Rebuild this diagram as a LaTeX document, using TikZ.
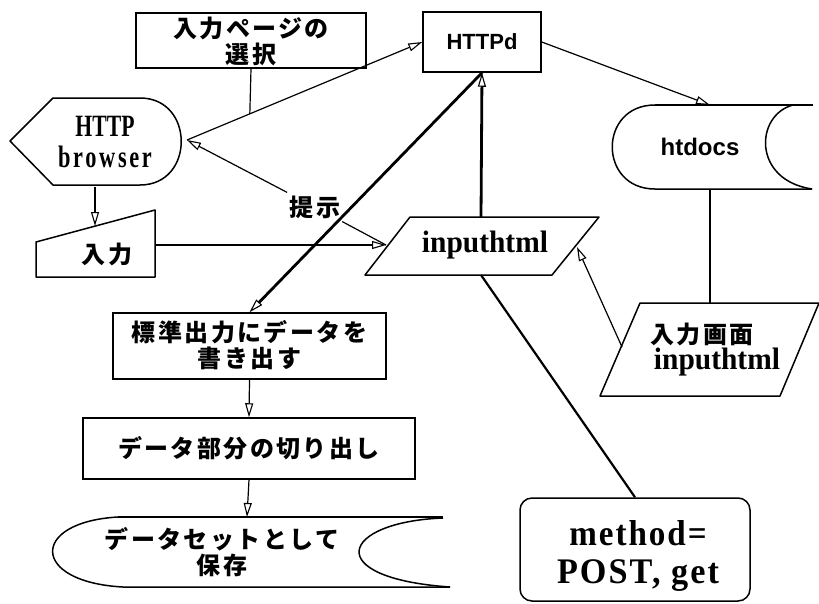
\documentclass[tikz,border=0pt]{standalone}
\usepackage{fontspec}
\usepackage{graphicx}
\setmainfont{Liberation Serif}
\newfontfamily\jp[LetterSpace=10]{Noto Sans CJK JP}
\newfontfamily\lsans{Liberation Sans}
\newfontfamily\serls[LetterSpace=12]{Liberation Serif}
\newfontfamily\sermeth[LetterSpace=6]{Liberation Serif}
\usetikzlibrary{arrows.meta,calc}
\newcommand\hsq[2]{\scalebox{#1}[1]{#2}}
\begin{document}
\begin{tikzpicture}[x=1pt,y=-1pt,
  shp/.style={draw, line width=1.5pt, line join=round},
  box/.style={draw, line width=1.5pt, inner sep=0pt},
  ln/.style={line width=1.2pt},
  heavy/.style={line width=2.8pt},
  arr/.style={-{Triangle[open,length=14pt,width=8pt,line width=1.1pt]}},
  jpt/.style={font=\jp\bfseries\fontsize{24}{26}\selectfont, align=center, inner sep=1pt},
  sert/.style={font=\bfseries, align=center, inner sep=1pt},
  sanst/.style={font=\lsans\bfseries, inner sep=1pt}]
\useasboundingbox[fill=white] (0,0) rectangle (819,603);

% ---- rectangles as nodes
\node[box, minimum width=230pt, minimum height=55pt] (sel) at (251,40.5) {};
\node[jpt] (selT) at (251,41) {入力ページの\\選択};

\node[box, minimum width=118pt, minimum height=60pt] (httpd) at (482,42)
  {\lsans\bfseries\fontsize{22}{24}\selectfont HTTPd};

\node[box, minimum width=273pt, minimum height=66pt] (std) at (249.5,346) {};
\node[jpt] (stdT) at (249.5,345) {標準出力にデータを\\書き出す};

\node[box, minimum width=332pt, minimum height=61pt] (cut) at (249,448.5)
  {\jp\bfseries\fontsize{24}{26}\selectfont データ部分の切り出し};

\node[box, rounded corners=12pt, minimum width=230pt, minimum height=103pt] (meth) at (635,549.5) {};
\node[sert, font=\sermeth\bfseries\fontsize{36}{38}\selectfont] (methT) at (638,556)
  {\hsq{0.92}{method=}\\\hsq{0.95}{POST, get}};

% ---- HTTP browser (display shape)
\draw[shp] (10,141) -- (53,98) -- (140,98) .. controls (195,98) and (195,185) .. (140,185) -- (53,185) -- cycle;
\node[sert, font=\bfseries\fontsize{31}{31}\selectfont] (brw) at (105,142)
  {\hsq{0.7}{HTTP}\\\hsq{0.72}{\serls browser}};
\coordinate (brR) at (187,140);
\coordinate (brB) at (95,187);

% ---- 入力 (manual input)
\draw[shp] (36,242) -- (155,210) -- (155,277) -- (36,277) -- cycle;
\node[jpt] (nyu) at (107,254) {入力};
\coordinate (nyuT) at (95,226);
\coordinate (nyuR) at (155,245);

% ---- htdocs (stored data)
\draw[shp] (655,105) -- (813,105);
\draw[shp] (655,105) .. controls (598,105) and (598,189) .. (655,189) -- (812,189);
\draw[shp] (793,105) .. controls (755,115) and (752,180) .. (812,189);
\node[sanst, font=\lsans\bfseries\fontsize{24}{26}\selectfont] (htd) at (700,147) {htdocs};
\coordinate (htdT) at (710,105);
\coordinate (htdB) at (710,189);

% ---- inputhtml (data)
\draw[shp] (410,217) -- (599,217) -- (552,275) -- (365,275) -- cycle;
\node[sert, font=\bfseries\fontsize{31}{32}\selectfont] (inph) at (485,245) {\hsq{0.95}{inputhtml}};
\coordinate (inpT) at (481,217);
\coordinate (inpB) at (481,275);
\coordinate (inpL) at (386,245);
\coordinate (inpR) at (577,247);

% ---- 入力画面 inputhtml (data)
\draw[shp] (640,303) -- (819,303) -- (780,396) -- (600,396) -- cycle;
\node[jpt] (scrA) at (702,334) {入力画面};
\node[sert, font=\bfseries\fontsize{31}{32}\selectfont] (scrB) at (717,362) {\hsq{0.95}{inputhtml}};
\coordinate (scrT) at (710,303);
\coordinate (scrL) at (622,347);

% ---- データセットとして保存 (stored data)
\draw[shp] (118,517) -- (443,517);
\draw[shp] (118,517) .. controls (30,522) and (30,582) .. (123,587) -- (450,587);
\draw[shp] (443,518) .. controls (340,522) and (320,578) .. (450,587);
\node[jpt] (dsT) at (222,552) {データセットとして\\保存};
\coordinate (dsTop) at (247,517);

% ---- connectors
\coordinate (j1) at ($(brR)!0.267!(httpd.west)$);
\draw[ln] (sel.south) -- (j1);
\draw[ln, arr] (brR) -- (httpd.west);
\node[jpt, inner sep=3pt] (tj) at (315,207) {提示};
\draw[ln] (inpL) -- (tj);
\draw[ln, arr] (tj) -- (brR);
\draw[ln, arr] (nyuR) -- (inpL);
\draw[ln, arr] (brB) -- (nyuT);
\draw[heavy, arr] (inpT) -- (httpd.south);
\draw[heavy, arr] (httpd.south) -- (std.north);
\draw[ln, arr] (httpd.east) -- (htdT);
\draw[ln] (htdB) -- (scrT);
\draw[ln, arr] (scrL) -- (inpR);
\draw[line width=2.2pt] (inpB) -- (meth.north);
\draw[ln, arr] (std.south) -- (cut.north);
\draw[ln, arr] (cut.south) -- (dsTop);
\end{tikzpicture}
\end{document}
